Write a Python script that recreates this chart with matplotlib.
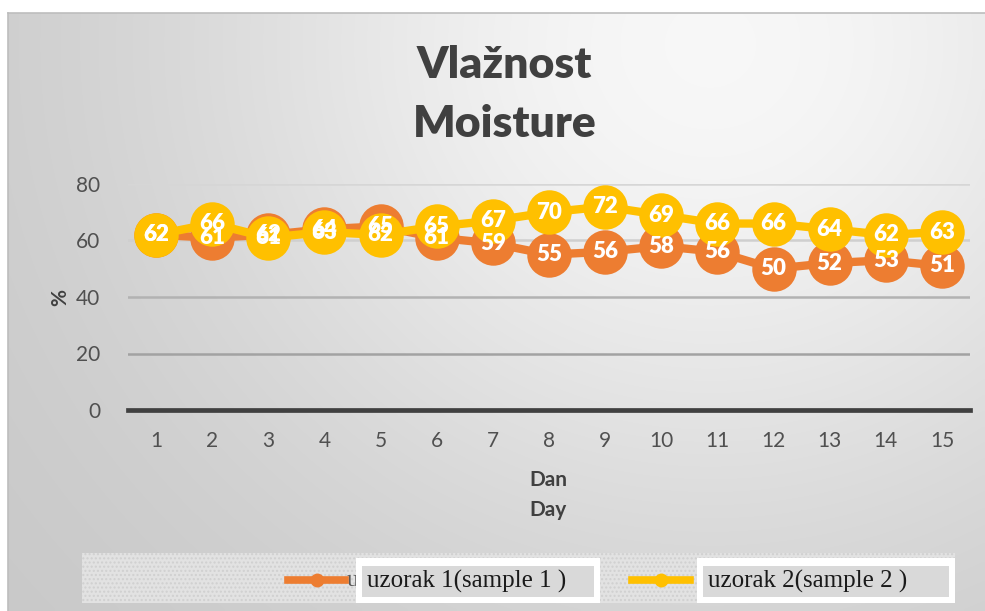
import numpy as np
import matplotlib
matplotlib.use("Agg")
import matplotlib.pyplot as plt
from matplotlib.patches import Rectangle
from matplotlib.lines import Line2D

days = list(range(1, 16))
sample1 = [62, 61, 62, 64, 65, 61, 59, 55, 56, 58, 56, 50, 52, 53, 51]
sample2 = [62, 66, 61, 63, 62, 65, 67, 70, 72, 69, 66, 66, 64, 62, 63]
series_names = ["uzorak 1(sample 1 )", "uzorak 2(sample 2 )"]
yticks = [0, 20, 40, 60, 80]
title_lines = ["Vlažnost", "Moisture"]
xlabel_lines = ["Dan", "Day"]
ylabel = "%"

ORANGE = "#ED7D31"
YELLOW = "#FFC000"
W, H = 985, 611

plt.rcParams['font.family'] = ['Lato', 'DejaVu Sans']

fig = plt.figure(figsize=(W / 100, H / 100), dpi=100)
fig.patch.set_facecolor("white")

def px(x, y):
    return (x / W, 1 - y / H)

# background gradient (lightest toward upper right-centre)
bg = fig.add_axes([8 / W, 0, (W - 8) / W, (H - 13) / H], zorder=0)
nx, ny = 240, 150
xx, yy = np.meshgrid(np.linspace(0, 1, nx), np.linspace(0, 1, ny))
d2 = ((xx - 0.72) / 0.55) ** 2 + ((yy - 0.05) / 0.85) ** 2
val = 0.78 + 0.19 * np.exp(-d2)
val = np.clip(val, 0, 1)
bg.imshow(np.dstack([val, val, val]), aspect="auto", extent=[0, 1, 1, 0], interpolation="bilinear")
bg.set_xlim(0, 1)
bg.set_ylim(1, 0)
bg.axis("off")
fig.add_artist(Line2D([8 / W, 1], [1 - 13 / H, 1 - 13 / H], color="#bdbdbd", lw=1.2, transform=fig.transFigure))
fig.add_artist(Line2D([8 / W, 8 / W], [0, 1 - 13 / H], color="#bdbdbd", lw=1.2, transform=fig.transFigure))

# main axes
x0, x1 = 128, 970
ytop, ybot = 184, 410
ax = fig.add_axes([x0 / W, 1 - ybot / H, (x1 - x0) / W, (ybot - ytop) / H], zorder=2)
ax.set_facecolor("none")
ax.set_xlim(0.5, 15.5)
ax.set_ylim(0, 80)
for s in ax.spines.values():
    s.set_visible(False)
ax.set_yticks(yticks)
ax.set_xticks(days)
ax.tick_params(axis="both", length=0, labelsize=15, labelcolor="#505050")
ax.tick_params(axis="y", pad=20)
ax.tick_params(axis="x", pad=15)
grid_cols = {20: "#a2a2a2", 40: "#b2b2b2", 60: "#cfcfcf", 80: "#d6d6d6"}
for t in yticks[1:]:
    ax.axhline(t, color=grid_cols[t], lw=1.8, zorder=1)
ax.axhline(0, color="#404040", lw=3.4, zorder=1, clip_on=False)

ax.plot(days, sample1, color=ORANGE, lw=6, marker="o", markersize=32,
        markeredgewidth=0, zorder=3, clip_on=False)
ax.plot(days, sample2, color=YELLOW, lw=6, marker="o", markersize=32,
        markeredgewidth=0, zorder=4, clip_on=False)
for d, v in zip(days, sample1):
    ax.text(d, v, str(v), ha="center", va="center", color="white",
            fontsize=16, fontweight="heavy", zorder=6)
for d, v in zip(days, sample2):
    ax.text(d, v, str(v), ha="center", va="center", color="white",
            fontsize=16, fontweight="heavy", zorder=6)

# titles and labels
fig.text(*px(504, 65), title_lines[0], ha="center", va="center", fontsize=32,
         fontweight="heavy", color="#404040")
fig.text(*px(505, 124), title_lines[1], ha="center", va="center", fontsize=32,
         fontweight="heavy", color="#404040")
fig.text(*px(548, 480), xlabel_lines[0], ha="center", va="center", fontsize=15,
         fontweight="bold", color="#404040")
fig.text(*px(548, 510), xlabel_lines[1], ha="center", va="center", fontsize=15,
         fontweight="bold", color="#404040")
fig.text(*px(60, 297), ylabel, ha="center", va="center", fontsize=15,
         fontweight="bold", color="#404040", rotation=90)

# legend
def prect(xa, ya, xb, yb, **kw):
    return Rectangle(px(xa, yb), (xb - xa) / W, (yb - ya) / H,
                     transform=fig.transFigure, **kw)

fig.add_artist(prect(82, 553, 955, 603, facecolor="#e2e2e2", edgecolor="#d0d0d0",
                     hatch="....", lw=0, zorder=3))
fig.text(*px(347, 581), "u", ha="left", va="center", fontsize=17, color="#595959",
         family=["Liberation Serif"], zorder=4)
legend_items = [
    (ORANGE, 288, 345, 356, 600, series_names[0]),
    (YELLOW, 632, 690, 697, 955, series_names[1]),
]
for col, la, lb, ba, bb, name in legend_items:
    fig.add_artist(Line2D([la / W, lb / W], [1 - 580 / H] * 2, color=col, lw=5.5,
                          transform=fig.transFigure, zorder=5))
    fig.add_artist(Line2D([(la + lb) / 2 / W], [1 - 580 / H], color=col, marker="o",
                          markersize=10, markeredgewidth=0, transform=fig.transFigure, zorder=5))
    fig.add_artist(prect(ba, 558, bb, 603, facecolor="white", lw=0, zorder=5))
    fig.add_artist(prect(ba + 6, 566, bb - 6, 597, facecolor="#d9d9d9", lw=0, zorder=6))
    fig.text(*px(ba + 11, 581), name, ha="left", va="center", fontsize=18,
             color="#1a1a1a", family=["Liberation Serif"], zorder=7)

fig.savefig("out.png", dpi=100, facecolor=fig.get_facecolor())
